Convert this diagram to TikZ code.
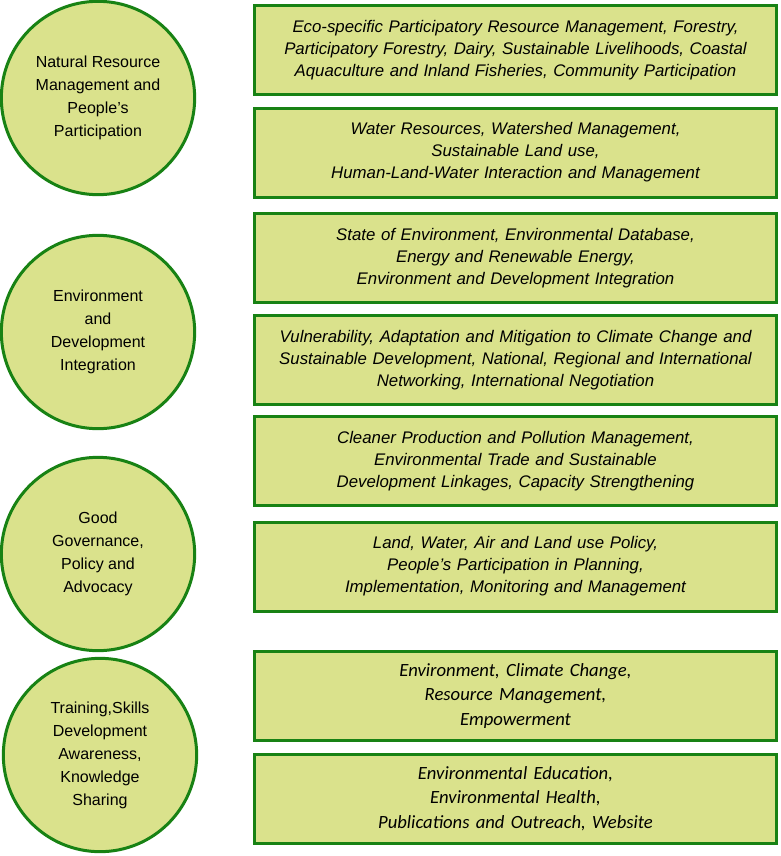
\documentclass[tikz,border=0pt]{standalone}
\usepackage{fontspec}
\setmainfont{Liberation Sans}
\newfontfamily\calibrifont{Carlito}
\definecolor{leaf}{RGB}{218,226,140}
\definecolor{rim}{RGB}{24,130,20}
\begin{document}
\begin{tikzpicture}[x=0.75pt,y=-0.75pt,
  theme/.style={circle,draw=rim,fill=leaf,line width=2.25pt,
    minimum size=145pt,inner sep=0pt,align=center,
    font=\fontsize{12}{17.2}\selectfont},
  topic/.style={rectangle,draw=rim,fill=leaf,line width=2.25pt,
    minimum width=391.5pt,minimum height=66.75pt,inner sep=0pt,
    text width=385pt,align=center,
    font=\fontsize{12.6}{16.5}\selectfont\itshape},
  topicc/.style={topic,font=\fontsize{14}{18.2}\calibrifont\itshape}]

  \useasboundingbox (0,0) rectangle (781,856);

  % themes on the left
  \node[theme] (nrm) at (98,98) {Natural Resource\\Management and\\People's\\Participation};
  \node[theme] (edi) at (98,332) {Environment\\and\\Development\\Integration};
  \node[theme] (ggp) at (98,554) {Good\\Governance,\\Policy and\\Advocacy};
  \node[theme] (tsk) at (100,755) {Training,Skills\\Development\\Awareness,\\Knowledge\\Sharing};

  % topics on the right
  \node[topic] (eco) at (515.5,50) {Eco-specific Participatory Resource Management, Forestry,\\
    Participatory Forestry, Dairy, Sustainable Livelihoods, Coastal\\
    Aquaculture and Inland Fisheries, Community Participation};
  \node[topic] (wat) at (515.5,152.5) {Water Resources, Watershed Management,\\
    Sustainable Land use,\\ Human-Land-Water Interaction and Management};
  \node[topic] (soe) at (515.5,258) {State of Environment, Environmental Database,\\
    Energy and Renewable Energy,\\ Environment and Development Integration};
  \node[topic] (vul) at (515.5,360) {Vulnerability, Adaptation and Mitigation to Climate Change and\\
    Sustainable Development, National, Regional and International\\
    Networking, International Negotiation};
  \node[topic] (cpp) at (515.5,461) {Cleaner Production and Pollution Management,\\
    Environmental Trade and Sustainable\\ Development Linkages, Capacity Strengthening};
  \node[topic] (lwa) at (515.5,566.5) {Land, Water, Air and Land use Policy,\\
    People's Participation in Planning,\\ Implementation, Monitoring and Management};
  \node[topicc] (ecc) at (515.5,696) {Environment, Climate Change,\\
    Resource Management,\\ Empowerment};
  \node[topicc] (eeh) at (515.5,798.5) {Environmental Education,\\
    Environmental Health,\\ Publications and Outreach, Website};

\end{tikzpicture}
\end{document}
